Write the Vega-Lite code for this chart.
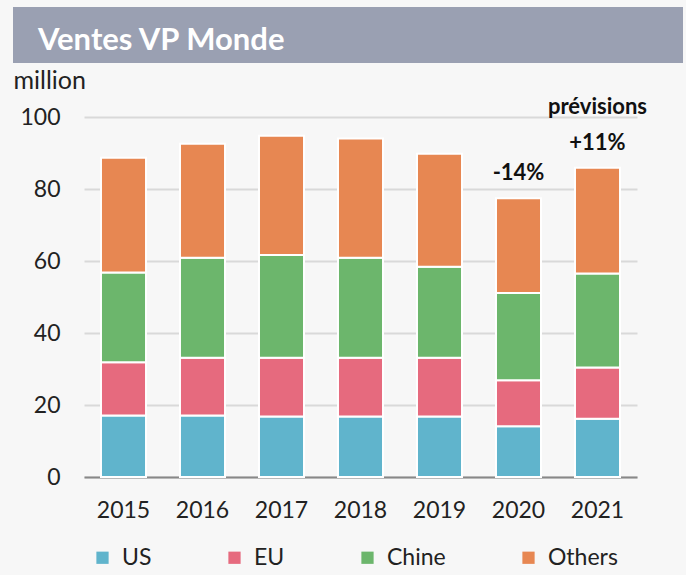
{
  "$schema": "https://vega.github.io/schema/vega-lite/v6.json",
  "background": "#f7f7f7",
  "padding": {"left": 13, "top": 7, "right": 3, "bottom": 7},
  "spacing": 5,
  "resolve": {"legend": {"color": "independent"}},
  "config": {
    "font": "Lato",
    "view": {"stroke": null},
    "axisY": {"domain": false, "ticks": false},
    "axisX": {"grid": false, "ticks": false}
  },
  "datasets": {
    "sales": [
      {"year": "2015", "region": "US", "value": 17.1},
      {"year": "2015", "region": "EU", "value": 14.8},
      {"year": "2015", "region": "Chine", "value": 24.9},
      {"year": "2015", "region": "Others", "value": 31.9},
      {"year": "2016", "region": "US", "value": 17.1},
      {"year": "2016", "region": "EU", "value": 16.0},
      {"year": "2016", "region": "Chine", "value": 27.8},
      {"year": "2016", "region": "Others", "value": 31.7},
      {"year": "2017", "region": "US", "value": 16.8},
      {"year": "2017", "region": "EU", "value": 16.3},
      {"year": "2017", "region": "Chine", "value": 28.6},
      {"year": "2017", "region": "Others", "value": 33.1},
      {"year": "2018", "region": "US", "value": 16.8},
      {"year": "2018", "region": "EU", "value": 16.3},
      {"year": "2018", "region": "Chine", "value": 27.8},
      {"year": "2018", "region": "Others", "value": 33.1},
      {"year": "2019", "region": "US", "value": 16.8},
      {"year": "2019", "region": "EU", "value": 16.3},
      {"year": "2019", "region": "Chine", "value": 25.3},
      {"year": "2019", "region": "Others", "value": 31.4},
      {"year": "2020", "region": "US", "value": 14.1},
      {"year": "2020", "region": "EU", "value": 12.8},
      {"year": "2020", "region": "Chine", "value": 24.2},
      {"year": "2020", "region": "Others", "value": 26.3},
      {"year": "2021", "region": "US", "value": 16.2},
      {"year": "2021", "region": "EU", "value": 14.2},
      {"year": "2021", "region": "Chine", "value": 26.1},
      {"year": "2021", "region": "Others", "value": 29.4}
    ],
    "notes": [
      {"year": "2020", "total": 77.4, "label": "-14%"},
      {"year": "2021", "total": 85.9, "label": "+11%"}
    ],
    "headers": [
      {"year": "2021", "total": 85.9, "label": "prévisions"}
    ]
  },
  "vconcat": [
    {
      "width": 670,
      "height": 56,
      "view": {"fill": "#9aa0b2", "stroke": null},
      "data": {"values": [{"title": "Ventes VP Monde"}]},
      "mark": {
        "type": "text",
        "align": "left",
        "baseline": "alphabetic",
        "dx": -310,
        "dy": 15,
        "color": "white",
        "fontSize": 31,
        "fontWeight": "bold",
        "font": "Lato"
      },
      "encoding": {"text": {"field": "title"}}
    },
    {
      "width": 670,
      "height": 360,
      "layer": [
        {
          "data": {"name": "sales"},
          "transform": [
            {"calculate": "indexof(['US','EU','Chine','Others'], datum.region)", "as": "stackOrder"}
          ],
          "mark": {"type": "bar", "stroke": "white", "strokeWidth": 2},
          "encoding": {
            "x": {
              "field": "year",
              "type": "ordinal",
              "scale": {"range": [71, 624], "paddingInner": 0.43, "paddingOuter": 0.215},
              "axis": {
                "title": null,
                "grid": false,
                "labelAngle": 0,
                "labelFontSize": 23,
                "labelColor": "#222222",
                "labelPadding": 22,
                "ticks": false,
                "domainColor": "#888888",
                "domainWidth": 2
              }
            },
            "y": {
              "field": "value",
              "type": "quantitative",
              "stack": "zero",
              "scale": {"domain": [0, 100]},
              "axis": {
                "offset": -71,
                "title": "million",
                "titleAngle": 0,
                "titleAlign": "left",
                "titleBaseline": "alphabetic",
                "titleX": -71,
                "titleY": -29,
                "titleFontSize": 25,
                "titleFontWeight": "normal",
                "titleColor": "#222222",
                "values": [0, 20, 40, 60, 80, 100],
                "labelFontSize": 23,
                "labelColor": "#222222",
                "labelPadding": 24,
                "ticks": false,
                "domain": false,
                "gridColor": "#d9d9d9",
                "gridWidth": 2
              }
            },
            "order": {"field": "stackOrder", "type": "quantitative"},
            "color": {
              "field": "region",
              "type": "nominal",
              "sort": ["US", "EU", "Chine", "Others"],
              "scale": {
                "domain": ["US", "EU", "Chine", "Others"],
                "range": ["#60b4cc", "#e66a7e", "#6cb66c", "#e78752"]
              },
              "legend": {
                "orient": "none",
                "legendX": 78,
                "legendY": 429,
                "direction": "horizontal",
                "title": null,
                "symbolType": "square",
                "symbolSize": 150,
                "symbolStrokeWidth": 0,
                "labelFontSize": 23,
                "labelColor": "#222222",
                "labelOffset": 8,
                "columnPadding": 71
              }
            }
          }
        },
        {
          "data": {"name": "notes"},
          "mark": {
            "type": "text",
            "fontWeight": "bold",
            "fontSize": 22,
            "baseline": "alphabetic",
            "dy": -18,
            "color": "#111111"
          },
          "encoding": {
            "x": {"field": "year", "type": "ordinal"},
            "y": {"field": "total", "type": "quantitative"},
            "text": {"field": "label"}
          }
        },
        {
          "data": {"name": "headers"},
          "mark": {
            "type": "text",
            "fontWeight": "bold",
            "fontSize": 22,
            "baseline": "alphabetic",
            "dy": -54,
            "color": "#111111"
          },
          "encoding": {
            "x": {"field": "year", "type": "ordinal"},
            "y": {"field": "total", "type": "quantitative"},
            "text": {"field": "label"}
          }
        }
      ]
    }
  ]
}
